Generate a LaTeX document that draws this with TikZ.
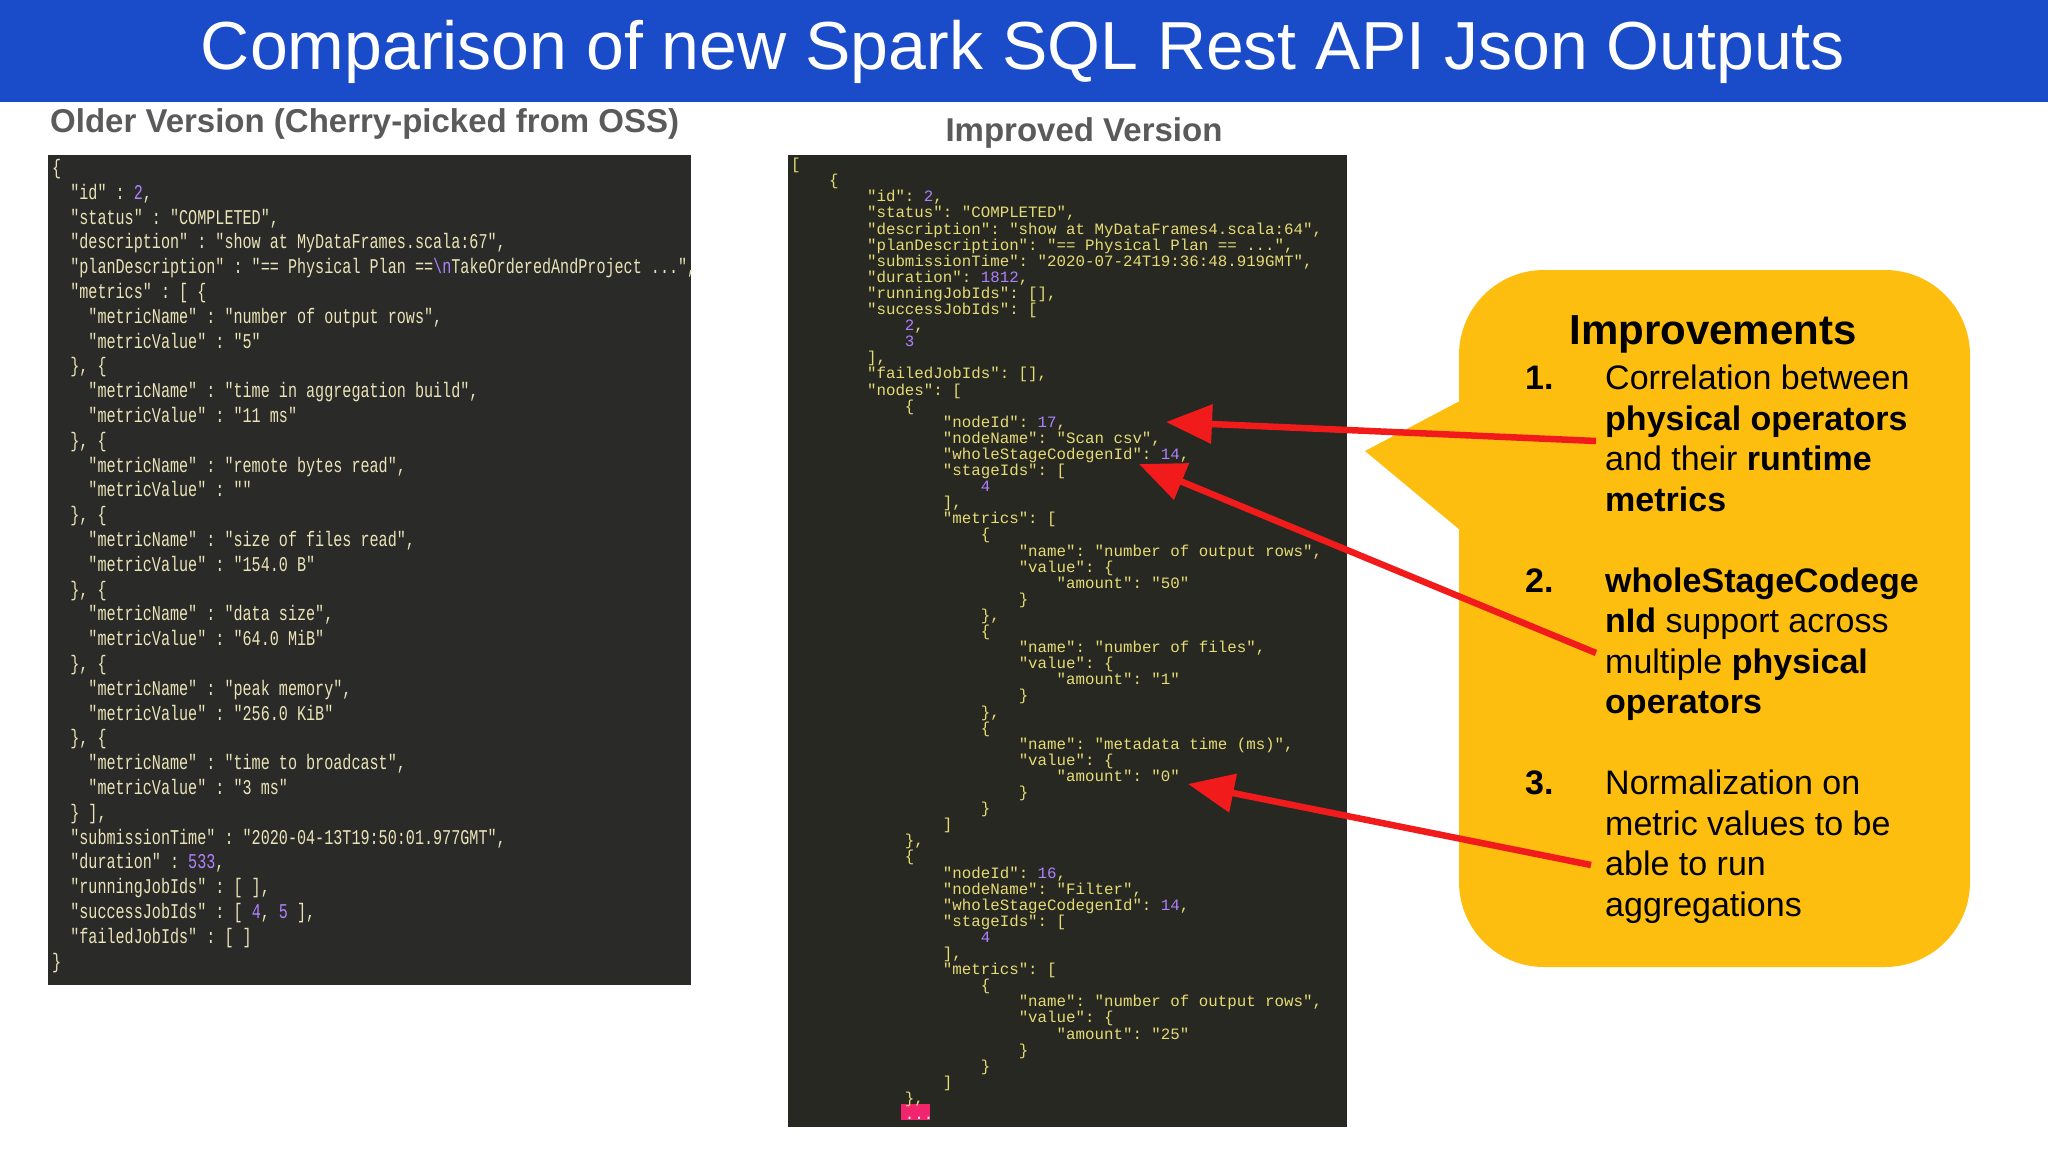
\documentclass[tikz,border=0pt]{standalone}
\usepackage{fontspec}
\setmainfont{Liberation Sans}
\setmonofont{Liberation Mono}
\usetikzlibrary{arrows.meta}
\definecolor{titleblue}{HTML}{1A4BC8}
\definecolor{headgray}{HTML}{5A5A5A}
\definecolor{codebg}{HTML}{272822}
\definecolor{codebgL}{HTML}{2A2A28}
\definecolor{jstr}{HTML}{E6DB74}
\definecolor{lstr}{HTML}{EAE4B8}
\definecolor{num}{HTML}{AE81FF}
\definecolor{callout}{HTML}{FDBE10}
\definecolor{arrred}{HTML}{F21B1B}
\definecolor{pinkhl}{HTML}{F0256E}
\newcommand\ind[1]{\hspace*{\dimexpr#1\fontcharwd\font`a\relax}}
\newcommand\nm[1]{\textcolor{num}{#1}}
\tikzset{
  heading/.style={font=\fontsize{33}{38}\selectfont\bfseries, text=headgray, inner sep=0},
  codetext/.style={inner sep=0, anchor=north west, align=left},
  itemtext/.style={font=\fontsize{34}{40}\selectfont, anchor=base west, inner sep=0},
  redarrow/.style={draw=arrred, line width=6.5pt, -{Triangle[length=46pt,width=38pt]}},
}
\begin{document}
\begin{tikzpicture}[x=1pt,y=-1pt]
\useasboundingbox (0,0) rectangle (2048,1152);
\fill[white] (0,0) rectangle (2048,1152);
% title
\fill[titleblue] (0,0) rectangle (2048,102);
\node[text=white, font=\fontsize{68}{76}\selectfont, inner sep=0] (title) at (1023,52) {Comparison of new Spark SQL Rest API Json Outputs};
% headings
\node[heading, anchor=west] (hold) at (50,124) {Older Version (Cherry-picked from OSS)};
\node[heading] (hnew) at (1084,133) {Improved Version};
% left code box
\fill[codebgL] (48,155) rectangle (691,985);
\node[codetext, text=lstr, xscale=0.72, font=\fontsize{21}{24.8}\selectfont\ttfamily] (lcode) at (52,159) {%
\{\\
\ind{2}"id" : \nm{2},\\
\ind{2}"status" : "COMPLETED",\\
\ind{2}"description" : "show at MyDataFrames.scala:67",\\
\ind{2}"planDescription" : "== Physical Plan ==\nm{\textbackslash n}TakeOrderedAndProject ...",\\
\ind{2}"metrics" : [ \{\\
\ind{4}"metricName" : "number of output rows",\\
\ind{4}"metricValue" : "5"\\
\ind{2}\}, \{\\
\ind{4}"metricName" : "time in aggregation build",\\
\ind{4}"metricValue" : "11 ms"\\
\ind{2}\}, \{\\
\ind{4}"metricName" : "remote bytes read",\\
\ind{4}"metricValue" : ""\\
\ind{2}\}, \{\\
\ind{4}"metricName" : "size of files read",\\
\ind{4}"metricValue" : "154.0 B"\\
\ind{2}\}, \{\\
\ind{4}"metricName" : "data size",\\
\ind{4}"metricValue" : "64.0 MiB"\\
\ind{2}\}, \{\\
\ind{4}"metricName" : "peak memory",\\
\ind{4}"metricValue" : "256.0 KiB"\\
\ind{2}\}, \{\\
\ind{4}"metricName" : "time to broadcast",\\
\ind{4}"metricValue" : "3 ms"\\
\ind{2}\} ],\\
\ind{2}"submissionTime" : "2020-04-13T19:50:01.977GMT",\\
\ind{2}"duration" : \nm{533},\\
\ind{2}"runningJobIds" : [ ],\\
\ind{2}"successJobIds" : [ \nm{4}, \nm{5} ],\\
\ind{2}"failedJobIds" : [ ]\\
\}};
% right code box
\fill[codebg] (788,155) rectangle (1347,1127);
\fill[pinkhl] (901,1104) rectangle (930,1120);
\node[codetext, text=jstr, font=\fontsize{15.8}{16.1}\selectfont\ttfamily] (rcode) at (791,158) {%
[\\
\ind{4}\{\\
\ind{8}"id": \nm{2},\\
\ind{8}"status": "COMPLETED",\\
\ind{8}"description": "show at MyDataFrames4.scala:64",\\
\ind{8}"planDescription": "== Physical Plan == ...",\\
\ind{8}"submissionTime": "2020-07-24T19:36:48.919GMT",\\
\ind{8}"duration": \nm{1812},\\
\ind{8}"runningJobIds": [],\\
\ind{8}"successJobIds": [\\
\ind{12}\nm{2},\\
\ind{12}\nm{3}\\
\ind{8}],\\
\ind{8}"failedJobIds": [],\\
\ind{8}"nodes": [\\
\ind{12}\{\\
\ind{16}"nodeId": \nm{17},\\
\ind{16}"nodeName": "Scan csv",\\
\ind{16}"wholeStageCodegenId": \nm{14},\\
\ind{16}"stageIds": [\\
\ind{20}\nm{4}\\
\ind{16}],\\
\ind{16}"metrics": [\\
\ind{20}\{\\
\ind{24}"name": "number of output rows",\\
\ind{24}"value": \{\\
\ind{28}"amount": "50"\\
\ind{24}\}\\
\ind{20}\},\\
\ind{20}\{\\
\ind{24}"name": "number of files",\\
\ind{24}"value": \{\\
\ind{28}"amount": "1"\\
\ind{24}\}\\
\ind{20}\},\\
\ind{20}\{\\
\ind{24}"name": "metadata time (ms)",\\
\ind{24}"value": \{\\
\ind{28}"amount": "0"\\
\ind{24}\}\\
\ind{20}\}\\
\ind{16}]\\
\ind{12}\},\\
\ind{12}\{\\
\ind{16}"nodeId": \nm{16},\\
\ind{16}"nodeName": "Filter",\\
\ind{16}"wholeStageCodegenId": \nm{14},\\
\ind{16}"stageIds": [\\
\ind{20}\nm{4}\\
\ind{16}],\\
\ind{16}"metrics": [\\
\ind{20}\{\\
\ind{24}"name": "number of output rows",\\
\ind{24}"value": \{\\
\ind{28}"amount": "25"\\
\ind{24}\}\\
\ind{20}\}\\
\ind{16}]\\
\ind{12}\},\\
\ind{12}\textcolor{white}{...}};
% callout
\fill[callout, rounded corners=85pt] (1459,270) rectangle (1970,967);
\fill[callout] (1490,385) -- (1365,451) -- (1490,555) -- cycle;
\node[font=\fontsize{42}{48}\selectfont\bfseries, inner sep=0, anchor=base] (imp) at (1713,344) {Improvements};
\node[itemtext, font=\fontsize{34}{40}\selectfont\bfseries] (n1) at (1525,389) {1.};
\node[itemtext] (i1a) at (1605,389) {Correlation between};
\node[itemtext] (i1b) at (1605,430) {\textbf{physical operators}};
\node[itemtext] (i1c) at (1605,470) {and their \textbf{runtime}};
\node[itemtext] (i1d) at (1605,511) {\textbf{metrics}};
\node[itemtext, font=\fontsize{34}{40}\selectfont\bfseries] (n2) at (1525,592) {2.};
\node[itemtext] (i2a) at (1605,592) {\textbf{wholeStageCodege}};
\node[itemtext] (i2b) at (1605,632) {\textbf{nId} support across};
\node[itemtext] (i2c) at (1605,673) {multiple \textbf{physical}};
\node[itemtext] (i2d) at (1605,713) {\textbf{operators}};
\node[itemtext, font=\fontsize{34}{40}\selectfont\bfseries] (n3) at (1525,794) {3.};
\node[itemtext] (i3a) at (1605,794) {Normalization on};
\node[itemtext] (i3b) at (1605,835) {metric values to be};
\node[itemtext] (i3c) at (1605,875) {able to run};
\node[itemtext] (i3d) at (1605,916) {aggregations};
% arrows
\coordinate (a1s) at (1596,441); \coordinate (a1e) at (1166,422);
\coordinate (a2s) at (1596,653); \coordinate (a2e) at (1139,464);
\coordinate (a3s) at (1591,865); \coordinate (a3e) at (1188,784);
\draw[redarrow] (a1s) -- (a1e);
\draw[redarrow] (a2s) -- (a2e);
\draw[redarrow] (a3s) -- (a3e);
\end{tikzpicture}
\end{document}
